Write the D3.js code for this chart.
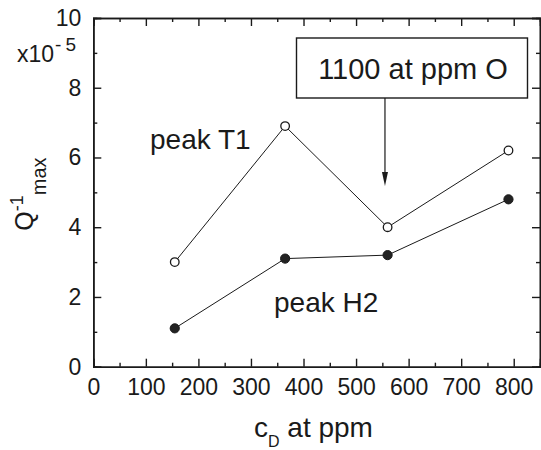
<!DOCTYPE html>
<html>
<head>
<meta charset="utf-8">
<script src="https://cdn.jsdelivr.net/npm/d3@7"></script>
<style>
  html, body { margin: 0; padding: 0; background: #fff; }
  svg { display: block; font-family: "Liberation Sans", Arial, Helvetica, sans-serif; }
</style>
</head>
<body>
<svg id="chart" width="541" height="450"></svg>
<script>
// ---- data ----
const cD = [155, 365, 560, 790];
const peakT1 = [3.0, 6.9, 4.0, 6.2];
const peakH2 = [1.1, 3.1, 3.2, 4.8];
const xMajorTicks = [0, 100, 200, 300, 400, 500, 600, 700, 800];
const xMinorTicks = [50, 150, 250, 350, 450, 550, 650, 750];
const yMajorTicks = [0, 2, 4, 6, 8, 10];
const yMinorTicks = [1, 3, 5, 7, 9];
const annotationText = "1100 at ppm O";
const arrowTarget = { x: 555 };

// ---- layout ----
const svg = d3.select("#chart");
const L = 93.3, R = 540, T = 18, B = 366.7;
const x = d3.scaleLinear().domain([0, 850]).range([L, R]);
const y = d3.scaleLinear().domain([0, 10]).range([B, T]);
const ink = "#1a1a1a";

// frame axes
const axB = d3.axisBottom(x).tickValues(xMajorTicks).tickSize(-8).tickPadding(12).tickFormat(d3.format("d"));
const axBm = d3.axisBottom(x).tickValues(xMinorTicks).tickSize(-4).tickFormat("");
const axT = d3.axisTop(x).tickValues(xMajorTicks).tickSize(-8).tickFormat("");
const axTm = d3.axisTop(x).tickValues(xMinorTicks).tickSize(-4).tickFormat("");
const axL = d3.axisLeft(y).tickValues(yMajorTicks).tickSize(-8).tickPadding(12).tickFormat(d3.format("d"));
const axLm = d3.axisLeft(y).tickValues(yMinorTicks).tickSize(-4).tickFormat("");
const axR = d3.axisRight(y).tickValues(yMajorTicks).tickSize(-8).tickFormat("");
const axRm = d3.axisRight(y).tickValues(yMinorTicks).tickSize(-4).tickFormat("");

function styleAxis(g) {
  g.select(".domain").attr("stroke", ink).attr("stroke-width", 1.6);
  g.selectAll(".tick line").attr("stroke", ink).attr("stroke-width", 1.4);
  g.selectAll(".tick text").attr("fill", ink).style("font-size", "23px").style("font-family", "inherit");
}

svg.append("g").attr("transform", `translate(0,${B})`).call(axB).call(styleAxis);
svg.append("g").attr("transform", `translate(0,${B})`).call(axBm).call(styleAxis);
svg.append("g").attr("transform", `translate(0,${T})`).call(axT).call(styleAxis);
svg.append("g").attr("transform", `translate(0,${T})`).call(axTm).call(styleAxis);
svg.append("g").attr("transform", `translate(${L},0)`).call(axL).call(styleAxis);
svg.append("g").attr("transform", `translate(${L},0)`).call(axLm).call(styleAxis);
svg.append("g").attr("transform", `translate(${R},0)`).call(axR).call(styleAxis);
svg.append("g").attr("transform", `translate(${R},0)`).call(axRm).call(styleAxis);

// multiplier label x10^-5
const mult = svg.append("text").attr("x", 17).attr("y", y(9) + 9).attr("fill", ink).style("font-size", "23px");
mult.append("tspan").text("x10");
mult.append("tspan").attr("dx", 1).attr("dy", -11).style("font-size", "19px").text("-");
mult.append("tspan").attr("dx", 4).style("font-size", "19px").text("5");

// y-axis title
const yt = svg.append("text")
  .attr("transform", `translate(33,${y(3.9)}) rotate(-90)`)
  .attr("fill", ink).style("font-size", "25px");
yt.append("tspan").text("Q");
yt.append("tspan").attr("dy", -10).style("font-size", "18px").text("-1");
yt.append("tspan").attr("dy", 23).style("font-size", "20px").text("max");

// x-axis title
const xt = svg.append("text").attr("x", 254).attr("y", 437).attr("fill", ink).style("font-size", "28px");
xt.append("tspan").text("c");
xt.append("tspan").attr("dy", 10).style("font-size", "16px").text("D");
xt.append("tspan").attr("dy", -10).text(" at ppm");

// lines
const line = d3.line().x(d => x(d[0])).y(d => y(d[1]));
const t1 = cD.map((c, i) => [c, peakT1[i]]);
const h2 = cD.map((c, i) => [c, peakH2[i]]);
svg.append("path").datum(t1).attr("d", line).attr("fill", "none").attr("stroke", ink).attr("stroke-width", 1);
svg.append("path").datum(h2).attr("d", line).attr("fill", "none").attr("stroke", ink).attr("stroke-width", 1);

svg.selectAll(".t1").data(t1).enter().append("circle")
  .attr("cx", d => x(d[0])).attr("cy", d => y(d[1])).attr("r", 4.3)
  .attr("fill", "#fff").attr("stroke", ink).attr("stroke-width", 1.3);
svg.selectAll(".h2").data(h2).enter().append("circle")
  .attr("cx", d => x(d[0])).attr("cy", d => y(d[1])).attr("r", 4.6)
  .attr("fill", "#222").attr("stroke", ink).attr("stroke-width", 1);

// series labels
svg.append("text").attr("x", 150).attr("y", 149).attr("fill", ink).style("font-size", "28px").text("peak T1");
svg.append("text").attr("x", 274).attr("y", 312).attr("fill", ink).style("font-size", "28px").text("peak H2");

// annotation box
const bx0 = 296.5, bx1 = 527.5, by0 = 38, by1 = 98;
svg.append("rect").attr("x", bx0).attr("y", by0).attr("width", bx1 - bx0).attr("height", by1 - by0)
  .attr("fill", "#fff").attr("stroke", ink).attr("stroke-width", 1.4);
svg.append("text").attr("x", (bx0 + bx1) / 2 + 1).attr("y", 79).attr("text-anchor", "middle")
  .attr("fill", ink).style("font-size", "29px").text(annotationText);

// arrow
const ax = x(arrowTarget.x);
svg.append("line").attr("x1", ax).attr("x2", ax).attr("y1", by1).attr("y2", 178)
  .attr("stroke", ink).attr("stroke-width", 1.2);
svg.append("path").attr("d", `M${ax - 3},172 L${ax + 3},172 L${ax},186 Z`).attr("fill", ink);
</script>
</body>
</html>
